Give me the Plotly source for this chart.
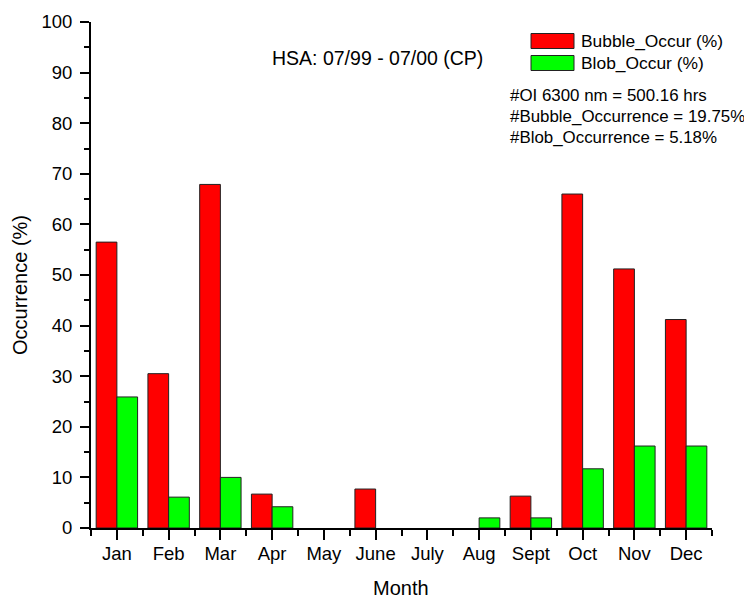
import plotly.graph_objects as go

months = ["Jan", "Feb", "Mar", "Apr", "May", "June", "July", "Aug", "Sept", "Oct", "Nov", "Dec"]
bubble = [56.5, 30.5, 67.9, 6.7, 0, 7.7, 0, 0, 6.3, 66.0, 51.2, 41.2]
blob = [25.9, 6.1, 10.0, 4.2, 0, 0, 0, 2.0, 2.0, 11.7, 16.2, 16.2]
series_names = ["Bubble_Occur (%)", "Blob_Occur (%)"]
series_colors = ["#FF0000", "#00FF00"]
info_lines = ["#OI 6300 nm = 500.16 hrs", "#Bubble_Occurrence = 19.75%", "#Blob_Occurrence = 5.18%"]
title_text = "HSA: 07/99 - 07/00 (CP)"
x_title = "Month"
y_title = "Occurrence (%)"

FONT = "Liberation Sans, Arial, sans-serif"
x_idx = list(range(len(months)))

fig = go.Figure()
for name, vals, col in zip(series_names, [bubble, blob], series_colors):
    fig.add_trace(go.Bar(x=x_idx, y=vals, name=name,
                         marker=dict(color=col, line=dict(color="#222222", width=[1 if v > 0 else 0 for v in vals])),
                         showlegend=False))

# page body has an 8px margin, so figure is 744x591 visible
OFF = 8
W, H = 744, 591
L, R, T, B = 83, 40, 14, 71
pw, ph = W - L - R, H - T - B

def px(sx):  # screen px -> paper
    return (sx - OFF - L) / pw

def py(sy):
    return (H - B - (sy - OFF)) / ph

fig.update_layout(
    width=W, height=H,
    margin=dict(l=L, r=R, t=T, b=B),
    paper_bgcolor="white", plot_bgcolor="white",
    barmode="group", bargap=0.2, bargroupgap=0,
    font=dict(family=FONT, size=18.5, color="black"),
)
fig.update_xaxes(
    range=[-0.5, 11.5], tickmode="array", tickvals=x_idx, ticktext=months,
    showline=True, linecolor="black", linewidth=2, mirror=False,
    ticks="outside", ticklen=10, tickwidth=2, tickcolor="black",
    minor=dict(tickmode="array", tickvals=[i - 0.5 for i in range(len(months) + 1)], ticks="outside",
               ticklen=6, tickwidth=2, tickcolor="black", showgrid=False),
    showgrid=False, zeroline=False, automargin=False,
    tickfont=dict(size=18.5), ticklabelstandoff=-2,
)
fig.update_yaxes(
    range=[0, 100], dtick=10, tick0=0,
    showline=True, linecolor="black", linewidth=2,
    ticks="outside", ticklen=9, tickwidth=2, tickcolor="black",
    minor=dict(dtick=5, ticks="outside", ticklen=5, tickwidth=2, tickcolor="black", showgrid=False),
    showgrid=False, zeroline=False, automargin=False,
    tickfont=dict(size=18.5), ticklabelstandoff=4,
)

# axis titles
fig.add_annotation(xref="paper", yref="paper", x=px(401), y=py(588), text=x_title, showarrow=False,
                   xanchor="center", yanchor="middle", font=dict(size=20))
fig.add_annotation(xref="paper", yref="paper", x=px(20), y=py(285), text=y_title, showarrow=False,
                   xanchor="center", yanchor="middle", textangle=-90, font=dict(size=20))

# legend drawn manually
leg_y = [41, 63]
for yc, name, col in zip(leg_y, series_names, series_colors):
    fig.add_shape(type="rect", xref="paper", yref="paper",
                  x0=px(531), x1=px(574), y0=py(yc - 7.5), y1=py(yc + 7.5),
                  fillcolor=col, line=dict(color="#222222", width=1))
    fig.add_annotation(xref="paper", yref="paper", x=px(579), y=py(yc), text=name,
                       showarrow=False, xanchor="left", yanchor="middle", font=dict(size=17.4))

for i, line in enumerate(info_lines):
    fig.add_annotation(xref="paper", yref="paper", x=px(508), y=py(95 + 21 * i), text=line,
                       showarrow=False, xanchor="left", yanchor="middle", font=dict(size=16.9))

fig.add_annotation(xref="paper", yref="paper", x=px(377), y=py(58), text=title_text,
                   showarrow=False, xanchor="center", yanchor="middle", font=dict(size=19.5))

fig.write_html("out.html")
